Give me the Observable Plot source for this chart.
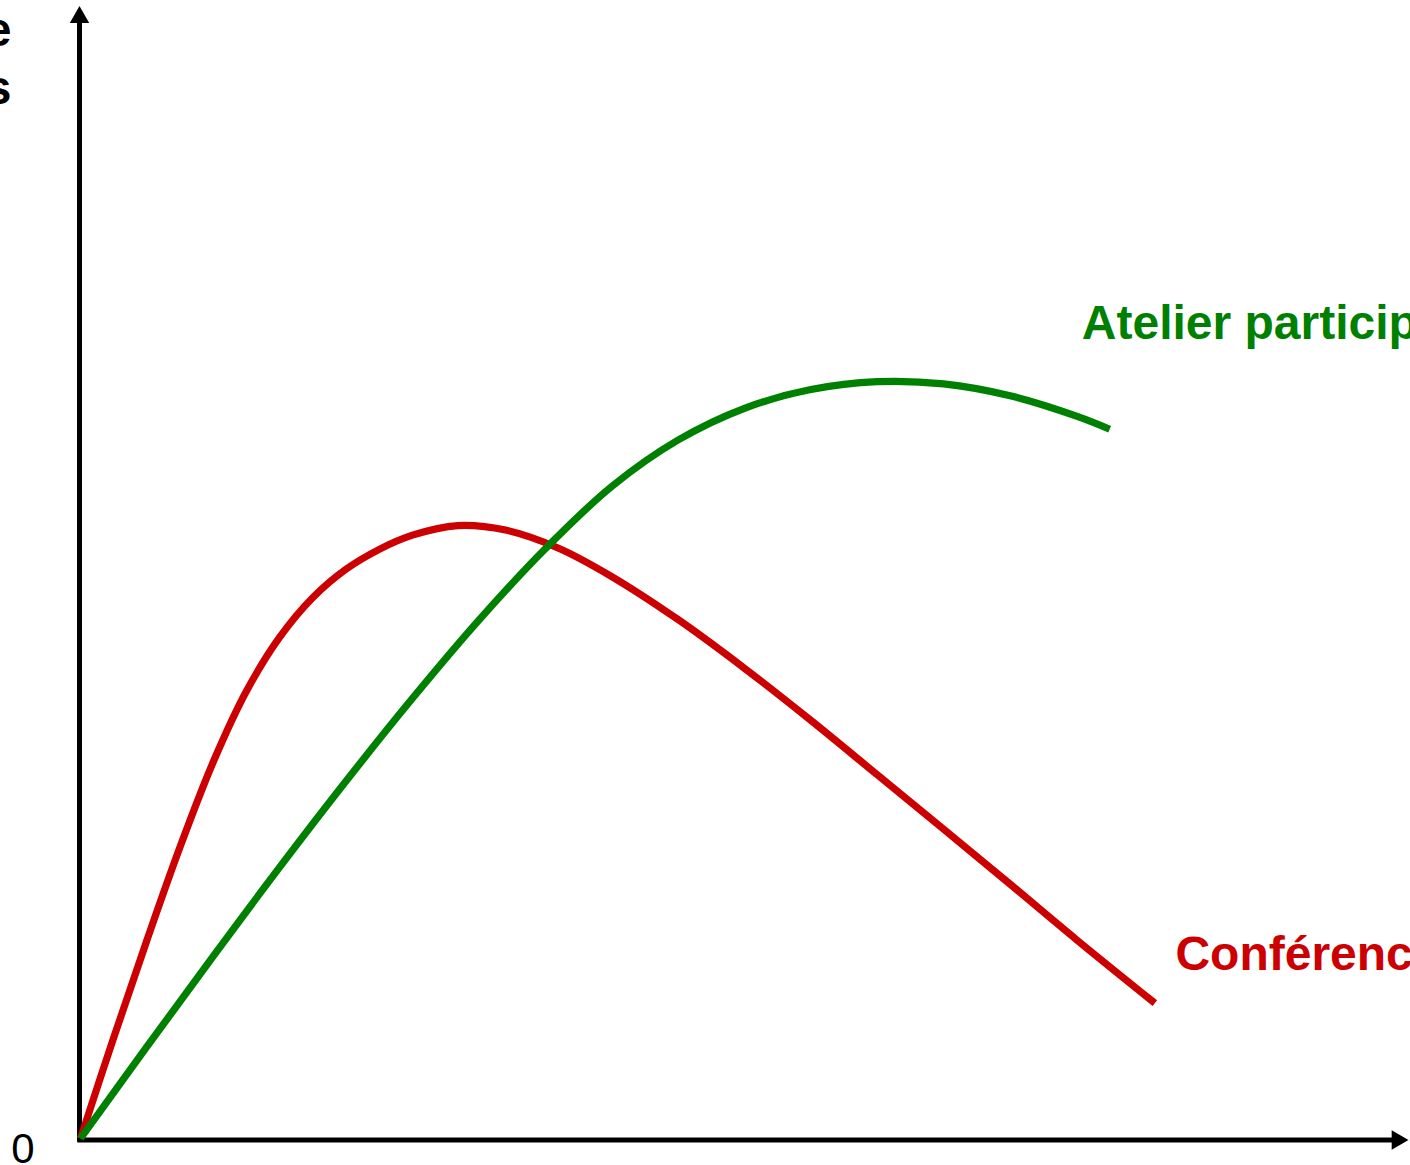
<!DOCTYPE html>
<html>
<head>
<meta charset="utf-8">
<script src="https://cdn.jsdelivr.net/npm/d3@7"></script>
<script src="https://cdn.jsdelivr.net/npm/@observablehq/plot@0.6"></script>
<style>
  html, body { margin: 0; padding: 0; background: #fff; overflow: hidden; }
  svg { display: block; }
</style>
</head>
<body>
<div id="chart"></div>
<script>
// Series names
const seriesNames = ["Conférence", "Atelier participatif"];

// Conférence (red) – time vs level
const confX = [0, 2.5, 5, 7.5, 10, 12.5, 15, 17.5, 20, 22.5, 25, 28.4, 32, 36, 40, 45, 50, 55, 60, 65, 70, 75, 80.9];
const confY = [0, 8.9, 17.5, 25.75, 33.25, 39.5, 44.25, 47.75, 50.25, 52.0, 53.25, 54.1, 53.7, 52.1, 49.6, 45.8, 41.5, 36.9, 32.1, 27.3, 22.45, 17.55, 11.95];

// Atelier participatif (green)
const atelX = [0, 5, 10, 15, 20, 25, 30, 35, 40, 45, 50, 55, 60, 65, 70, 75, 77.5];
const atelY = [0, 8.1, 16.1, 23.95, 31.55, 38.85, 45.75, 52.05, 57.55, 61.65, 64.45, 66.1, 66.8, 66.6, 65.55, 63.75, 62.6];

// Texts
const originLabel = "0";
const yAxisLabel = "Apprentissage\ndes participants";

const conf = confX.map((x, i) => ({x, y: confY[i]}));
const atel = atelX.map((x, i) => ({x, y: atelY[i]}));

const font = "'Liberation Sans', Arial, Helvetica, sans-serif";

const chart = Plot.plot({
  width: 1410,
  height: 1165,
  marginLeft: 80,
  marginRight: 2,
  marginTop: 5,
  marginBottom: 27,
  style: {fontFamily: font, background: "#fff", overflow: "visible"},
  x: {domain: [0, 100], axis: null},
  y: {domain: [0, 100], axis: null},
  marks: [
    // axes
    Plot.ruleY([0], {x1: -0.2, x2: 99.2, stroke: "#000", strokeWidth: 5, dy: 1.5}),
    Plot.ruleX([0], {y1: -0.3, y2: 98.8, stroke: "#000", strokeWidth: 5, dx: -1}),
    Plot.dot([{x: 0, y: 100}], {x: "x", y: "y", symbol: "triangle", r: 7.2, fill: "#000", stroke: null, dx: -1, dy: 11.8}),
    Plot.dot([{x: 100, y: 0}], {x: "x", y: "y", symbol: "triangle", r: 7.2, fill: "#000", stroke: null, rotate: 90, dx: -11.2, dy: 1.5}),
    // curves
    Plot.line(conf, {x: "x", y: "y", stroke: "#cc0000", strokeWidth: 7.2, curve: "catmull-rom", strokeLinecap: "butt", strokeLinejoin: "round"}),
    Plot.line(atel, {x: "x", y: "y", stroke: "#008000", strokeWidth: 7.2, curve: "catmull-rom", strokeLinecap: "butt", strokeLinejoin: "round"}),
    // labels
    Plot.text([seriesNames[1]], {x: 75.4, y: 70.6, text: d => d, textAnchor: "start", lineAnchor: "bottom", fill: "#008000", fontSize: 48, fontWeight: "bold"}),
    Plot.text([seriesNames[0]], {x: 82.45, y: 14.83, text: d => d, textAnchor: "start", lineAnchor: "bottom", fill: "#cc0000", fontSize: 48, fontWeight: "bold"}),
    Plot.text([originLabel], {x: -4.33, y: -2.12, text: d => d, textAnchor: "middle", lineAnchor: "bottom", fill: "#000", fontSize: 42}),
    Plot.text([yAxisLabel], {x: -5.2, y: 91.35, text: d => d, textAnchor: "end", lineAnchor: "bottom", lineHeight: 1.2, fill: "#000", fontSize: 48, fontWeight: "bold"})
  ]
});
document.getElementById("chart").appendChild(chart);
</script>
</body>
</html>
